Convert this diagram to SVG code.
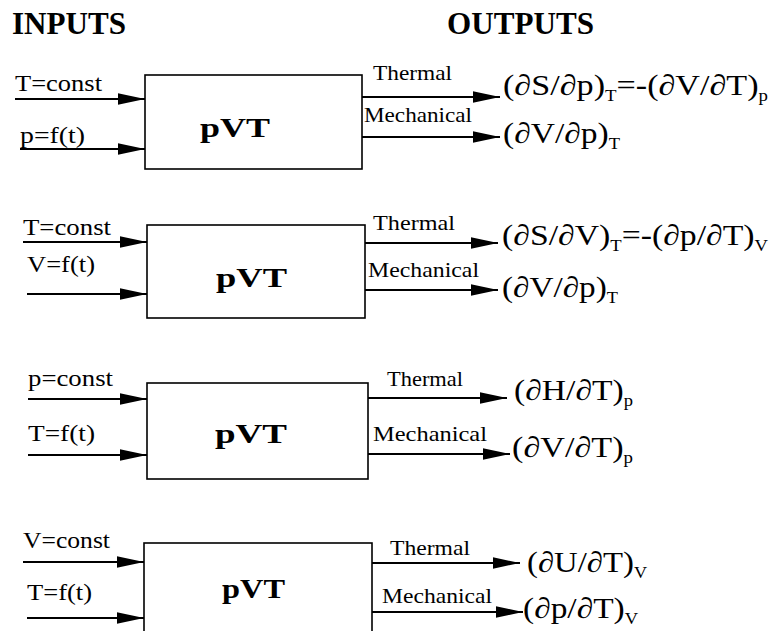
<svg xmlns="http://www.w3.org/2000/svg" width="783" height="631" viewBox="0 0 783 631">
<defs>
<marker id="ah" markerUnits="userSpaceOnUse" markerWidth="28" markerHeight="13" refX="27" refY="6.5" orient="auto">
<path d="M0,0.8 L27,6.5 L0,12.2 z" fill="#000"/>
</marker>
<style>
text{font-family:"Liberation Serif","Times New Roman",serif;fill:#000}
.hd{font-size:31px;font-weight:bold}
.in{font-size:23px}
.bx{font-size:28px;font-weight:bold}
.lb{font-size:21px}
.out{font-size:29px}
.sb{font-size:16px}
.box{fill:#fff;stroke:#000;stroke-width:1.6}
.cn line{stroke:#000;stroke-width:1.9;marker-end:url(#ah)}
</style>
</defs>
<rect width="783" height="631" fill="#fff"/>
<g id="headers">
<text class="hd" x="12" y="34" textLength="114" lengthAdjust="spacingAndGlyphs">INPUTS</text>
<text class="hd" x="447" y="34" textLength="147" lengthAdjust="spacingAndGlyphs">OUTPUTS</text>
</g>
<g id="connectors" class="cn">
<line x1="15" y1="99" x2="145" y2="99"/>
<line x1="20" y1="149" x2="145" y2="149"/>
<line x1="362" y1="97" x2="500" y2="97"/>
<line x1="362" y1="137" x2="500" y2="137"/>
<line x1="23" y1="242" x2="147" y2="242"/>
<line x1="27" y1="294" x2="147" y2="294"/>
<line x1="365" y1="243" x2="498" y2="243"/>
<line x1="365" y1="290" x2="498" y2="290"/>
<line x1="28" y1="399" x2="147" y2="399"/>
<line x1="28" y1="455" x2="147" y2="455"/>
<line x1="368" y1="398" x2="507" y2="398"/>
<line x1="368" y1="454" x2="510" y2="454"/>
<line x1="23" y1="562" x2="144" y2="562"/>
<line x1="27" y1="618" x2="144" y2="618"/>
<line x1="372" y1="563" x2="520" y2="563"/>
<line x1="372" y1="612" x2="523" y2="612"/>
</g>
<g id="connector-labels">
<text class="lb" x="373" y="80" textLength="79" lengthAdjust="spacingAndGlyphs">Thermal</text>
<text class="lb" x="364" y="122" textLength="108" lengthAdjust="spacingAndGlyphs">Mechanical</text>
<text class="lb" x="373" y="230" textLength="82" lengthAdjust="spacingAndGlyphs">Thermal</text>
<text class="lb" x="368" y="277" textLength="111" lengthAdjust="spacingAndGlyphs">Mechanical</text>
<text class="lb" x="387" y="386" textLength="76" lengthAdjust="spacingAndGlyphs">Thermal</text>
<text class="lb" x="373" y="441" textLength="114" lengthAdjust="spacingAndGlyphs">Mechanical</text>
<text class="lb" x="390" y="555" textLength="80" lengthAdjust="spacingAndGlyphs">Thermal</text>
<text class="lb" x="382" y="603" textLength="110" lengthAdjust="spacingAndGlyphs">Mechanical</text>
</g>
<g id="block1">
<g id="in1a"><text class="in" x="15" y="91" textLength="87" lengthAdjust="spacingAndGlyphs">T=const</text></g>
<g id="in1b"><text class="in" x="20" y="143" textLength="65" lengthAdjust="spacingAndGlyphs">p=f(t)</text></g>
<g id="box1"><rect class="box" x="145" y="75" width="217" height="94"/><text class="bx" x="200" y="137" textLength="70" lengthAdjust="spacingAndGlyphs">pVT</text></g>
<g id="out1a"><text class="out" x="503" y="95" textLength="265" lengthAdjust="spacingAndGlyphs">(∂S/∂p)<tspan class="sb" dy="6">T</tspan><tspan dy="-6">=-(∂V/∂T)</tspan><tspan class="sb" dy="6">p</tspan></text></g>
<g id="out1b"><text class="out" x="503" y="143" textLength="117" lengthAdjust="spacingAndGlyphs">(∂V/∂p)<tspan class="sb" dy="6">T</tspan></text></g>
</g>
<g id="block2">
<g id="in2a"><text class="in" x="23" y="235" textLength="88" lengthAdjust="spacingAndGlyphs">T=const</text></g>
<g id="in2b"><text class="in" x="27" y="272" textLength="68" lengthAdjust="spacingAndGlyphs">V=f(t)</text></g>
<g id="box2"><rect class="box" x="147" y="225" width="218" height="93"/><text class="bx" x="216" y="287" textLength="71" lengthAdjust="spacingAndGlyphs">pVT</text></g>
<g id="out2a"><text class="out" x="502" y="245" textLength="266" lengthAdjust="spacingAndGlyphs">(∂S/∂V)<tspan class="sb" dy="6">T</tspan><tspan dy="-6">=-(∂p/∂T)</tspan><tspan class="sb" dy="6">V</tspan></text></g>
<g id="out2b"><text class="out" x="502" y="297" textLength="116" lengthAdjust="spacingAndGlyphs">(∂V/∂p)<tspan class="sb" dy="6">T</tspan></text></g>
</g>
<g id="block3">
<g id="in3a"><text class="in" x="28" y="386" textLength="85" lengthAdjust="spacingAndGlyphs">p=const</text></g>
<g id="in3b"><text class="in" x="28" y="441" textLength="67" lengthAdjust="spacingAndGlyphs">T=f(t)</text></g>
<g id="box3"><rect class="box" x="147" y="383" width="221" height="96"/><text class="bx" x="215" y="443" textLength="72" lengthAdjust="spacingAndGlyphs">pVT</text></g>
<g id="out3a"><text class="out" x="514" y="400" textLength="119" lengthAdjust="spacingAndGlyphs">(∂H/∂T)<tspan class="sb" dy="6">p</tspan></text></g>
<g id="out3b"><text class="out" x="512" y="457" textLength="121" lengthAdjust="spacingAndGlyphs">(∂V/∂T)<tspan class="sb" dy="6">p</tspan></text></g>
</g>
<g id="block4">
<g id="in4a"><text class="in" x="23" y="548" textLength="87" lengthAdjust="spacingAndGlyphs">V=const</text></g>
<g id="in4b"><text class="in" x="27" y="600" textLength="65" lengthAdjust="spacingAndGlyphs">T=f(t)</text></g>
<g id="box4"><rect class="box" x="144" y="543" width="228" height="100"/><text class="bx" x="222" y="598" textLength="63" lengthAdjust="spacingAndGlyphs">pVT</text></g>
<g id="out4a"><text class="out" x="527" y="572" textLength="120" lengthAdjust="spacingAndGlyphs">(∂U/∂T)<tspan class="sb" dy="6">V</tspan></text></g>
<g id="out4b"><text class="out" x="523" y="618" textLength="115" lengthAdjust="spacingAndGlyphs">(∂p/∂T)<tspan class="sb" dy="6">V</tspan></text></g>
</g>
</svg>
